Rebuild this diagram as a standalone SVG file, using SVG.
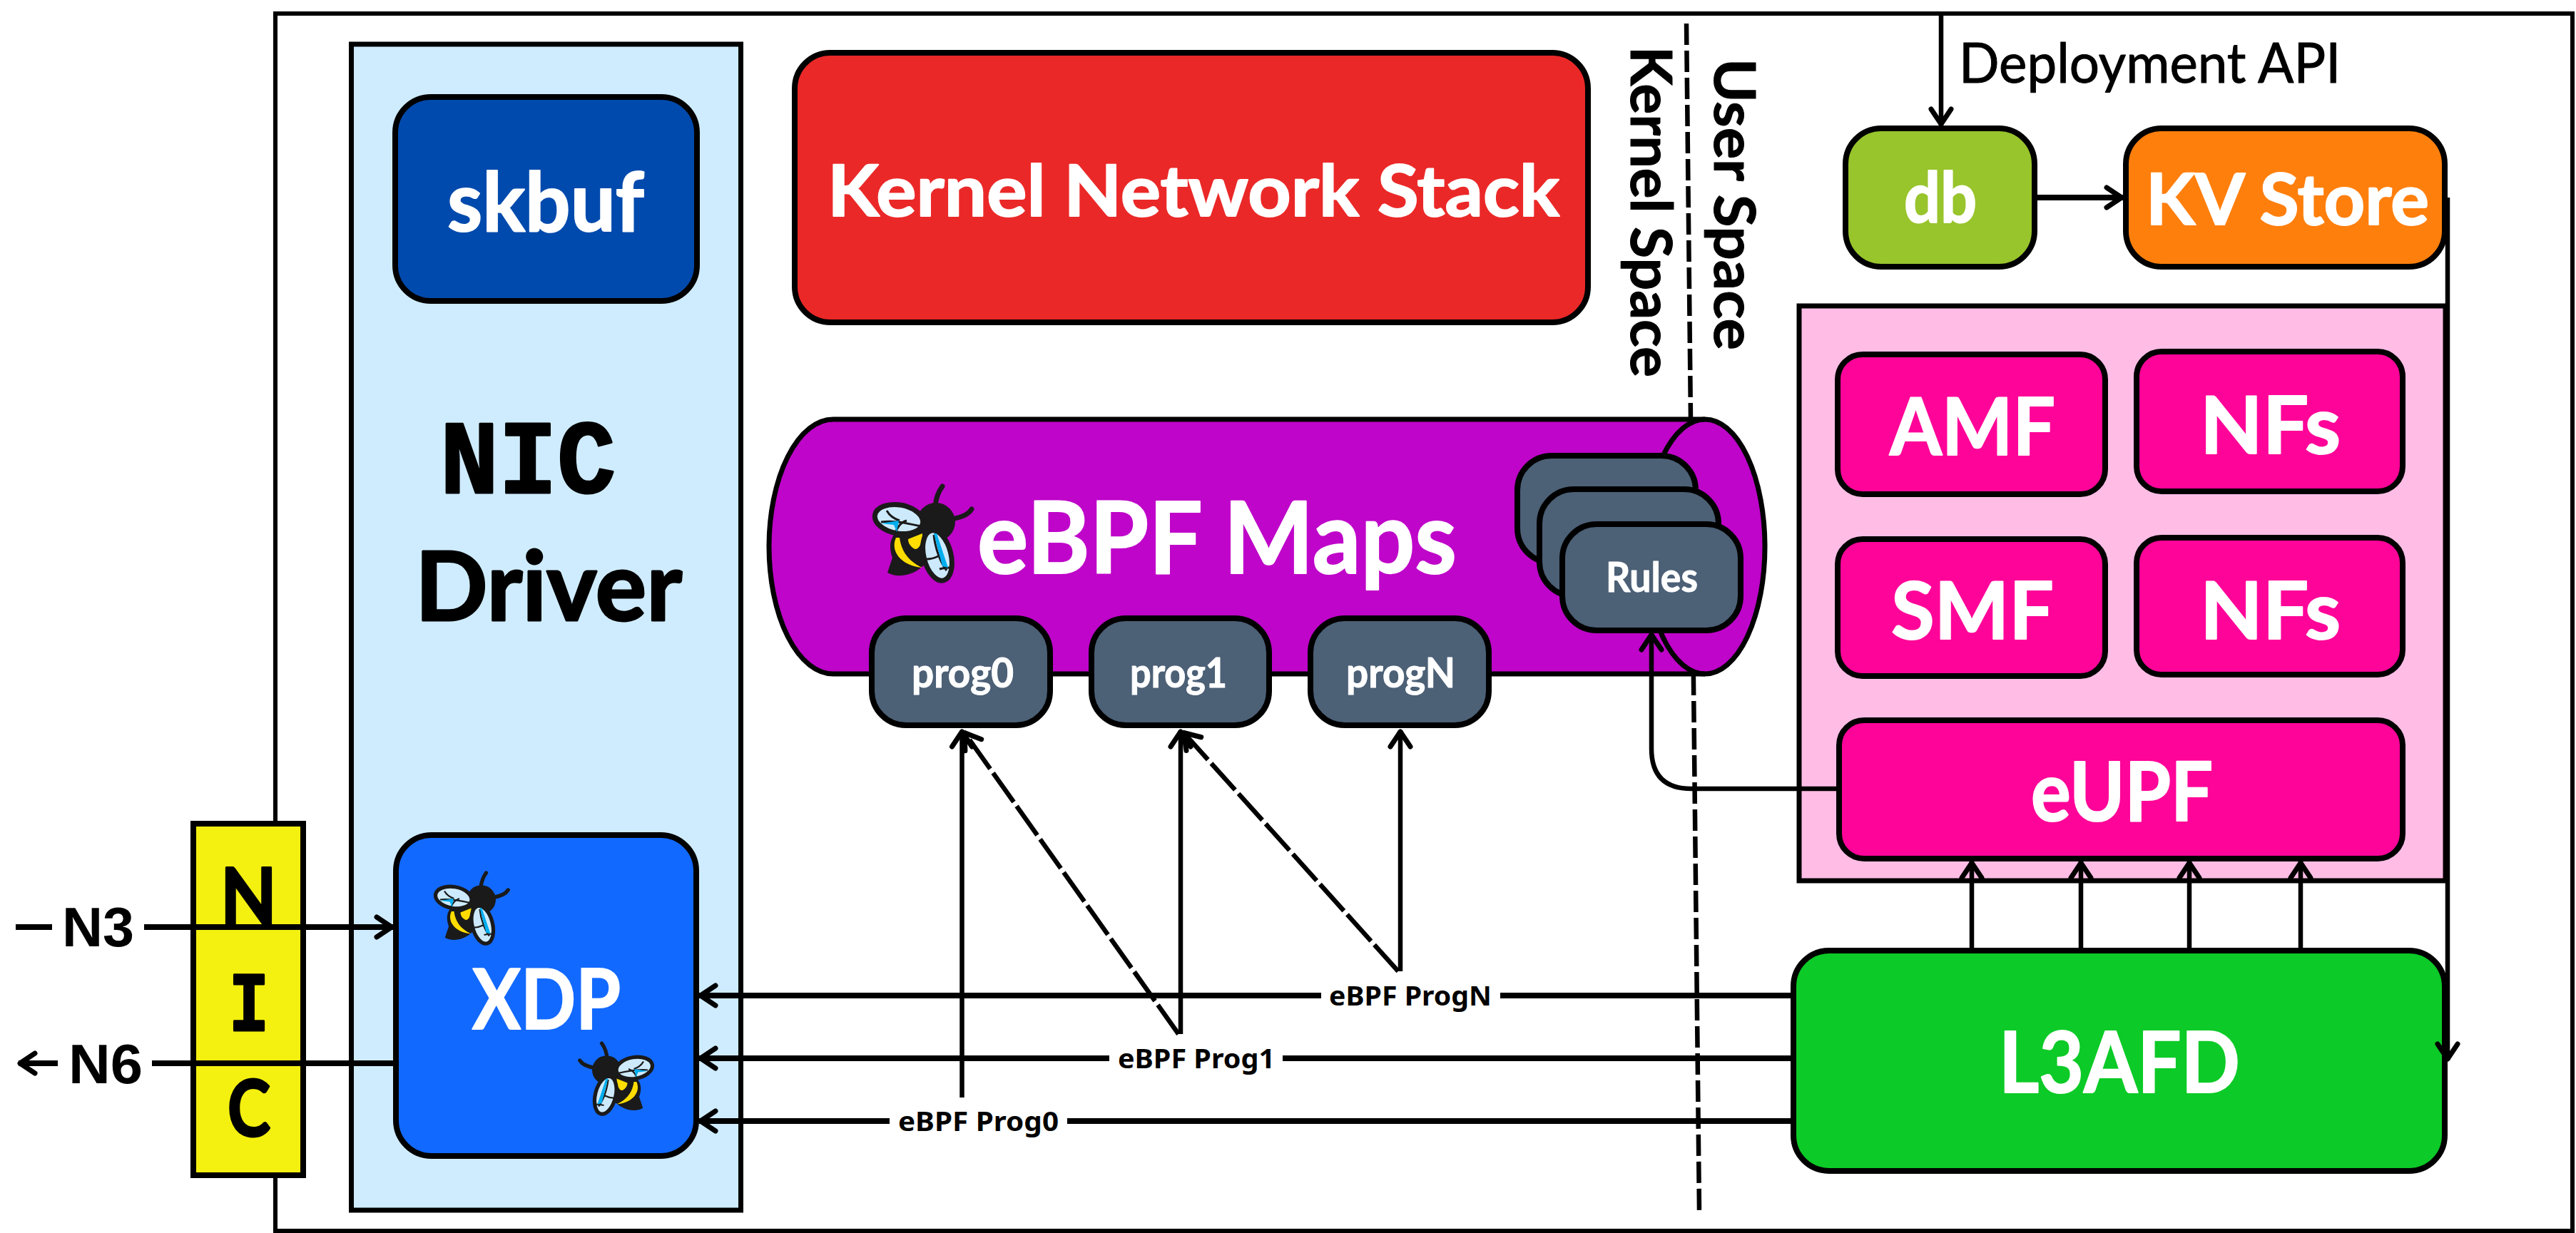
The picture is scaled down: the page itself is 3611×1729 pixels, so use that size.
<svg xmlns="http://www.w3.org/2000/svg" xmlns:xlink="http://www.w3.org/1999/xlink" width="3611" height="1729" viewBox="0 0 3611 1729">
<style>
text{font-family:"Lato","Open Sans",sans-serif;font-weight:700;stroke-linejoin:round}
.w{fill:#fff;stroke:#fff;stroke-width:2}
.k{fill:#000;stroke:#000;stroke-width:3}
.thin{fill:#000;font-weight:400;stroke:#000;stroke-width:1}
.s{fill:#000;font-family:"Liberation Sans",Arial,sans-serif}
.lbl{fill:#000;font-family:"Noto Sans","Open Sans",sans-serif;font-size:38px;font-weight:700}
.mono{font-family:"Liberation Mono",monospace}
.box{stroke:#000;stroke-width:8}
.ln{stroke:#000;stroke-width:6.500;fill:none}
.h{stroke-width:8}
.ar{marker-end:url(#arrow)}
.dash{stroke-dasharray:50 7}
.bdash{stroke-dasharray:30 8}
</style>
<defs>
<marker id="arrow" markerUnits="userSpaceOnUse" markerWidth="40" markerHeight="44" viewBox="-28 -22 40 44" refX="2" refY="0" orient="auto" overflow="visible">
<path d="M-21,-14 L0,0 L-21,14" fill="none" stroke="#000" stroke-width="7" stroke-linecap="round" stroke-linejoin="round"/>
</marker>
<g id="bee">
<path d="M96,40 C97,28 100,20 106,12" fill="none" stroke="#1a1a1a" stroke-width="7" stroke-linecap="round"/>
<path d="M118,58 C132,56 142,52 147,44" fill="none" stroke="#1a1a1a" stroke-width="7" stroke-linecap="round"/>
<circle cx="97" cy="62" r="27" fill="#1a1a1a"/>
<path d="M29,133 L36,112 C28,90 36,72 60,70 L90,80 L90,105 C84,130 50,145 29,133 Z" fill="#1a1a1a"/>
<path d="M41,84 C32,104 50,124 78,126 C56,116 48,100 46,84 Z" fill="#ffdd00"/>
<path d="M58,86 L78,78 C78,90 74,100 68,100 C62,98 58,92 58,86 Z" fill="#ffdd00"/>
<ellipse cx="45" cy="58" rx="34" ry="20" transform="rotate(10 45 58)" fill="#cdeafc" stroke="#1a1a1a" stroke-width="7"/>
<path d="M20,62 C35,60 50,62 76,68 M28,46 C33,55 40,58 46,60 M40,78 C42,70 48,62 56,60" fill="none" stroke="#1a1a1a" stroke-width="3"/>
<path d="M20,64 L45,60 L42,76 L38,66 Z" fill="#00aeef"/>
<ellipse cx="99" cy="109" rx="19" ry="36" transform="rotate(-14 99 109)" fill="#cdeafc" stroke="#1a1a1a" stroke-width="7"/>
<path d="M94,80 C96,100 104,120 112,130 M84,114 C92,114 96,112 100,110 M102,128 C108,126 112,126 116,126" fill="none" stroke="#1a1a1a" stroke-width="3"/>
<path d="M94,78 L98,78 L114,126 L106,124 Z" fill="#00aeef"/>
</g>
</defs>
<rect width="3611" height="1729" fill="#fff"/>
<rect id="frame" x="386" y="19" width="3220" height="1707" fill="none" stroke="#000" stroke-width="6"/>
<g id="nic-driver">
<rect x="492.500" y="62" width="546" height="1635" fill="#cfecff" stroke="#000" stroke-width="7"/>
<text class="k mono" x="617" y="691" font-size="146" textLength="246" lengthAdjust="spacingAndGlyphs">NIC</text>
<text class="k" x="582" y="870" font-size="135" textLength="374" lengthAdjust="spacingAndGlyphs">Driver</text>
</g>
<g id="nic">
<rect x="271" y="1155" width="154" height="493" fill="#f4f010" stroke="#000" stroke-width="8"/>
<text class="k" x="309" y="1297" font-size="112" textLength="79" lengthAdjust="spacingAndGlyphs">N</text>
<text class="k mono" x="321" y="1445" font-size="118" textLength="56" lengthAdjust="spacingAndGlyphs">I</text>
<text class="k" x="319" y="1593" font-size="110" textLength="60" lengthAdjust="spacingAndGlyphs">C</text>
</g>
<g id="skbuf">
<rect class="box" x="554" y="136" width="423" height="286" rx="50" fill="#014aad"/>
<text class="w" x="627" y="324" font-size="115" textLength="276" lengthAdjust="spacingAndGlyphs">skbuf</text>
</g>
<g id="xdp">
<rect class="box" x="555" y="1171" width="421" height="450" rx="50" fill="#1269ff"/>
<text class="w" x="662" y="1443" font-size="117" textLength="208" lengthAdjust="spacingAndGlyphs">XDP</text>
<use xlink:href="#bee" href="#bee" transform="translate(602,1215) scale(.75)"/>
<use xlink:href="#bee" href="#bee" transform="translate(923,1454) scale(-.75,.75)"/>
</g>
<g id="kernel-network-stack">
<rect class="box" x="1114" y="74" width="1112" height="378" rx="50" fill="#eb2828" stroke-width="6"/>
<text class="w" x="1160" y="303" font-size="100" textLength="1026" lengthAdjust="spacingAndGlyphs">Kernel Network Stack</text>
</g>
<g id="boundary">
<path class="ln bdash" d="M2364,33 L2382,1698"/>
<text class="k" transform="translate(2286,65) rotate(90)" font-size="80" textLength="464" lengthAdjust="spacingAndGlyphs" style="stroke-width:1">Kernel Space</text>
<text class="k" transform="translate(2403,82) rotate(90)" font-size="80" textLength="409" lengthAdjust="spacingAndGlyphs" style="stroke-width:1">User Space</text>
</g>
<g id="ebpf-maps">
<path d="M1168,588 H2390 A84,178.500 0 0 1 2390,945 H1168 A90,178.500 0 0 1 1168,588 Z" fill="#bf05c9" stroke="#000" stroke-width="7"/>
<path d="M2390,588 A84,178.500 0 0 0 2390,945" fill="none" stroke="#000" stroke-width="7"/>
<use xlink:href="#bee" href="#bee" x="1215" y="670"/>
<text class="w" x="1370" y="804" font-size="140" textLength="672" lengthAdjust="spacingAndGlyphs">eBPF Maps</text>
</g>
<g id="rules-stack">
<rect class="box" x="2127" y="639" width="250" height="150" rx="48" fill="#4c6076"/>
<rect class="box" x="2158" y="686" width="251" height="150" rx="48" fill="#4c6076"/>
<rect class="box" x="2190" y="735" width="250" height="149" rx="48" fill="#4c6076"/>
<text class="w" x="2251" y="830" font-size="57" textLength="129" lengthAdjust="spacingAndGlyphs" style="stroke-width:1">Rules</text>
</g>
<g id="prog0">
<rect class="box" x="1222" y="867" width="250" height="150" rx="48" fill="#4c6076"/>
<text class="w" x="1278" y="964" font-size="58" textLength="143" lengthAdjust="spacingAndGlyphs" style="stroke-width:1">prog0</text>
</g>
<g id="prog1">
<rect class="box" x="1530" y="867" width="249" height="150" rx="48" fill="#4c6076"/>
<text class="w" x="1584" y="964" font-size="58" textLength="136" lengthAdjust="spacingAndGlyphs" style="stroke-width:1">prog1</text>
</g>
<g id="progN">
<rect class="box" x="1837" y="867" width="250" height="150" rx="48" fill="#4c6076"/>
<text class="w" x="1887" y="964" font-size="58" textLength="153" lengthAdjust="spacingAndGlyphs" style="stroke-width:1">progN</text>
</g>
<g id="db">
<rect class="box" x="2587" y="180" width="265" height="194" rx="50" fill="#98c42c" stroke-width="7"/>
<text class="w" x="2669" y="312" font-size="98" textLength="102" lengthAdjust="spacingAndGlyphs">db</text>
</g>
<g id="kv-store">
<rect class="box" x="2980" y="180" width="447" height="194" rx="50" fill="#ff7f0d" stroke-width="7"/>
<text class="w" x="3008" y="315" font-size="100" textLength="397" lengthAdjust="spacingAndGlyphs">KV Store</text>
</g>
<g id="nf-group">
<rect x="2522" y="429" width="906" height="806" fill="#ffbde6" stroke="#000" stroke-width="7"/>
</g>
<g id="amf">
<rect class="box" x="2576" y="497" width="375" height="196" rx="35" fill="#ff0499" stroke-width="7"/>
<text class="w" x="2649" y="638" font-size="111" textLength="232" lengthAdjust="spacingAndGlyphs">AMF</text>
</g>
<g id="nfs1">
<rect class="box" x="2995" y="493" width="373" height="196" rx="35" fill="#ff0499" stroke-width="7"/>
<text class="w" x="3084" y="636" font-size="111" textLength="197" lengthAdjust="spacingAndGlyphs">NFs</text>
</g>
<g id="smf">
<rect class="box" x="2576" y="756" width="375" height="192" rx="35" fill="#ff0499" stroke-width="7"/>
<text class="w" x="2651" y="896" font-size="111" textLength="228" lengthAdjust="spacingAndGlyphs">SMF</text>
</g>
<g id="nfs2">
<rect class="box" x="2995" y="754" width="373" height="192" rx="35" fill="#ff0499" stroke-width="7"/>
<text class="w" x="3084" y="896" font-size="111" textLength="197" lengthAdjust="spacingAndGlyphs">NFs</text>
</g>
<g id="eupf">
<rect class="box" x="2578" y="1010" width="790" height="194" rx="35" fill="#ff0499" stroke-width="7"/>
<text class="w" x="2847" y="1151" font-size="114" textLength="255" lengthAdjust="spacingAndGlyphs">eUPF</text>
</g>
<g id="l3afd">
<rect class="box" x="2514" y="1333" width="913" height="309" rx="50" fill="#0cca27" stroke-width="7"/>
<text class="w" x="2802" y="1532" font-size="118" textLength="338" lengthAdjust="spacingAndGlyphs">L3AFD</text>
</g>
<g id="connectors">
<path class="ln h" d="M22,1300 H73"/>
<path class="ln h ar" d="M202,1300 H551"/>
<path class="ln h" d="M551,1491 H213"/>
<path class="ln h ar" d="M81,1491 H26"/>
<path class="ln ar" d="M2721,19 V176"/>
<path class="ln h ar" d="M2852,277 H2976"/>
<path class="ln ar" d="M3431,277 V1487"/>
<path class="ln ar" d="M2576,1106 H2371 Q2315,1106 2315,1050 V888"/>
<path class="ln ar" d="M2764,1333 V1208"/>
<path class="ln ar" d="M2917,1333 V1208"/>
<path class="ln ar" d="M3069,1333 V1208"/>
<path class="ln ar" d="M3225,1333 V1208"/>
<path class="ln ar" d="M1348.500,1539 V1024"/>
<path class="ln ar" d="M1655,1450 V1024"/>
<path class="ln ar" d="M1963,1362 V1024"/>
<path class="ln dash ar" d="M1652,1450 L1351,1026"/>
<path class="ln dash ar" d="M1960,1362 L1658,1026"/>
<path class="ln h ar" d="M1852,1396 H980"/>
<path class="ln h" d="M2513,1396 H2103"/>
<path class="ln h ar" d="M1555,1484 H980"/>
<path class="ln h" d="M2513,1484 H1798"/>
<path class="ln h ar" d="M1247,1572 H980"/>
<path class="ln h" d="M2513,1572 H1496"/>
<text class="lbl" x="1863" y="1410" textLength="228" lengthAdjust="spacingAndGlyphs">eBPF ProgN</text>
<text class="lbl" x="1567" y="1498" textLength="220" lengthAdjust="spacingAndGlyphs">eBPF Prog1</text>
<text class="lbl" x="1259" y="1586" textLength="225" lengthAdjust="spacingAndGlyphs">eBPF Prog0</text>
<text class="s" x="87" y="1327" font-size="77" textLength="101" lengthAdjust="spacingAndGlyphs">N3</text>
<text class="s" x="96" y="1519" font-size="77" textLength="104" lengthAdjust="spacingAndGlyphs">N6</text>
<text class="thin" x="2746" y="116" font-size="78" textLength="535" lengthAdjust="spacingAndGlyphs">Deployment API</text>
</g>
</svg>
